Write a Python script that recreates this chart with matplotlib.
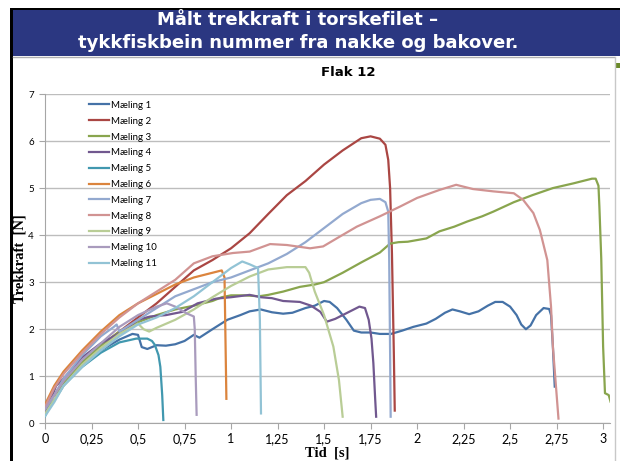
import matplotlib
matplotlib.use("Agg")
import matplotlib.pyplot as plt
from matplotlib.patches import Rectangle, Arc
from matplotlib.lines import Line2D

# måledata, flak 12 (tid i s, kraft i N)
t1 = [0, 0.02, 0.05, 0.1, 0.15, 0.2, 0.3, 0.4, 0.47, 0.5, 0.52, 0.55, 0.6, 0.65, 0.7, 0.75, 0.8, 0.83,
      0.9, 0.98, 1.05, 1.1, 1.16, 1.22, 1.28, 1.33, 1.4, 1.45, 1.5, 1.53, 1.57, 1.62, 1.66, 1.7, 1.75,
      1.8, 1.86, 1.92, 1.98, 2.05, 2.1, 2.15, 2.19, 2.23, 2.28, 2.33, 2.38, 2.42, 2.46, 2.5, 2.535,
      2.56, 2.585, 2.61, 2.64, 2.68, 2.71, 2.72, 2.73, 2.74]
f1 = [0.2, 0.45, 0.6, 0.85, 1.05, 1.25, 1.55, 1.78, 1.9, 1.88, 1.62, 1.58, 1.66, 1.65, 1.68, 1.75, 1.88,
      1.82, 2.0, 2.2, 2.3, 2.38, 2.42, 2.36, 2.33, 2.35, 2.45, 2.5, 2.6, 2.58, 2.45, 2.2, 1.97, 1.93,
      1.93, 1.9, 1.9, 1.97, 2.05, 2.12, 2.22, 2.35, 2.42, 2.38, 2.32, 2.38, 2.5, 2.58, 2.58, 2.48, 2.3,
      2.1, 2.0, 2.08, 2.3, 2.45, 2.43, 2.3, 1.63, 0.78]

t2 = [0, 0.02, 0.05, 0.1, 0.2, 0.3, 0.4, 0.5, 0.6, 0.7, 0.8, 0.9, 1.0, 1.1, 1.2, 1.3, 1.4, 1.5, 1.6,
      1.7, 1.75, 1.8, 1.83, 1.845, 1.855, 1.865, 1.875, 1.88]
f2 = [0.35, 0.5, 0.6, 0.9, 1.3, 1.65, 1.95, 2.25, 2.55, 2.9, 3.25, 3.47, 3.72, 4.04, 4.45, 4.85, 5.15,
      5.5, 5.8, 6.06, 6.1, 6.05, 5.92, 5.6, 5.0, 3.6, 1.5, 0.27]

t3 = [0, 0.05, 0.1, 0.2, 0.3, 0.4, 0.5, 0.6, 0.7, 0.8, 0.85, 0.9, 0.95, 1.0, 1.07, 1.15, 1.2, 1.28,
      1.37, 1.45, 1.5, 1.6, 1.7, 1.8, 1.855, 1.9, 1.95, 2.05, 2.12, 2.2, 2.27, 2.35, 2.41, 2.52, 2.62,
      2.73, 2.84, 2.94, 2.96, 2.975, 2.98, 2.99, 3.0, 3.01, 3.03, 3.04]
f3 = [0.3, 0.6, 0.85, 1.3, 1.65, 1.95, 2.15, 2.3, 2.42, 2.5, 2.55, 2.6, 2.68, 2.72, 2.72, 2.7, 2.73,
      2.8, 2.9, 2.95, 3.0, 3.2, 3.42, 3.63, 3.82, 3.85, 3.86, 3.93, 4.08, 4.18, 4.29, 4.4, 4.5, 4.7,
      4.85, 5.0, 5.1, 5.2, 5.2, 5.05, 4.6, 3.5, 1.63, 0.64, 0.6, 0.46]

t4 = [0, 0.03, 0.06, 0.1, 0.2, 0.3, 0.385, 0.45, 0.5, 0.565, 0.65, 0.74, 0.82, 0.92, 1.0, 1.1, 1.16,
      1.22, 1.28, 1.37, 1.43, 1.48, 1.515, 1.56, 1.6, 1.65, 1.69, 1.72, 1.74, 1.755, 1.765, 1.775, 1.78]
f4 = [0.25, 0.5, 0.8, 0.95, 1.4, 1.7, 1.88, 2.05, 2.2, 2.27, 2.3, 2.37, 2.55, 2.65, 2.68, 2.73, 2.68,
      2.66, 2.6, 2.58, 2.5, 2.37, 2.16, 2.22, 2.3, 2.4, 2.48, 2.45, 2.2, 1.8, 1.28, 0.5, 0.14]

t5 = [0, 0.03, 0.06, 0.1, 0.2, 0.3, 0.4, 0.49, 0.55, 0.575, 0.59, 0.61, 0.62, 0.63, 0.636]
f5 = [0.15, 0.4, 0.55, 0.8, 1.2, 1.5, 1.72, 1.8, 1.8, 1.75, 1.67, 1.45, 1.2, 0.6, 0.07]

t6 = [0, 0.05, 0.1, 0.2, 0.3, 0.4, 0.5, 0.6, 0.7, 0.8, 0.9, 0.95, 0.965, 0.975]
f6 = [0.4, 0.8, 1.1, 1.55, 1.95, 2.3, 2.55, 2.75, 2.95, 3.1, 3.2, 3.25, 3.1, 0.52]

t7 = [0, 0.05, 0.1, 0.2, 0.3, 0.37, 0.385, 0.4, 0.5, 0.6, 0.7, 0.8, 0.9, 1.0, 1.1, 1.2, 1.3, 1.4,
      1.5, 1.6, 1.7, 1.75, 1.8, 1.83, 1.845, 1.85, 1.855, 1.858]
f7 = [0.3, 0.6, 0.95, 1.45, 1.85, 2.05, 2.1, 1.95, 2.2, 2.45, 2.7, 2.85, 3.0, 3.1, 3.25, 3.4, 3.6,
      3.85, 4.15, 4.45, 4.68, 4.75, 4.77, 4.7, 4.5, 3.5, 1.5, 0.14]

t8 = [0, 0.05, 0.1, 0.2, 0.3, 0.4, 0.5, 0.6, 0.7, 0.8, 0.9, 1.01, 1.1, 1.21, 1.3, 1.425, 1.495, 1.585,
      1.676, 1.8, 1.91, 2.0, 2.12, 2.21, 2.3, 2.41, 2.52, 2.57, 2.625, 2.66, 2.7, 2.72, 2.73, 2.76]
f8 = [0.35, 0.75, 1.05, 1.5, 1.9, 2.25, 2.55, 2.8, 3.05, 3.4, 3.55, 3.62, 3.65, 3.81, 3.79, 3.72, 3.76,
      3.97, 4.18, 4.4, 4.61, 4.79, 4.96, 5.07, 4.98, 4.93, 4.89, 4.75, 4.47, 4.11, 3.47, 2.48, 1.63, 0.1]

t9 = [0, 0.05, 0.1, 0.2, 0.3, 0.4, 0.5, 0.53, 0.56, 0.6, 0.7, 0.8, 0.9, 1.0, 1.1, 1.2, 1.3, 1.4,
      1.42, 1.45, 1.5, 1.55, 1.58, 1.6]
f9 = [0.2, 0.5, 0.8, 1.25, 1.6, 1.9, 2.12, 2.0, 1.95, 2.03, 2.2, 2.42, 2.68, 2.92, 3.12, 3.27, 3.32,
      3.32, 3.2, 2.8, 2.3, 1.63, 0.92, 0.14]

t10 = [0, 0.05, 0.1, 0.2, 0.3, 0.4, 0.5, 0.6, 0.655, 0.7, 0.76, 0.8, 0.805, 0.81, 0.815]
f10 = [0.3, 0.6, 0.9, 1.35, 1.7, 2.05, 2.3, 2.48, 2.55, 2.48, 2.34, 2.27, 2.0, 1.0, 0.18]

t11 = [0, 0.05, 0.1, 0.2, 0.3, 0.4, 0.5, 0.6, 0.7, 0.8, 0.9, 1.0, 1.06, 1.1, 1.145, 1.155, 1.161]
f11 = [0.15, 0.45, 0.8, 1.2, 1.55, 1.85, 2.1, 2.25, 2.45, 2.7, 3.0, 3.3, 3.44, 3.38, 3.3, 2.2, 0.21]

navn = ["Mæling %d" % i for i in range(1, 12)]
farger = ["#4572A7", "#AA4643", "#89A54E", "#71588F", "#4198AF", "#DB843D",
          "#93A9CF", "#D19392", "#B9CD96", "#A99BBD", "#92C3D5"]
xticks = [0, 0.25, 0.5, 0.75, 1, 1.25, 1.5, 1.75, 2, 2.25, 2.5, 2.75, 3]
xticklabels = ["0", "0,25", "0,5", "0,75", "1", "1,25", "1,5", "1,75", "2", "2,25", "2,5", "2,75", "3"]

W, H = 620, 461


def px(x, y):
    # pikselposisjon -> figurkoordinater
    return x / W, 1 - y / H


fig = plt.figure(figsize=(6.2, 4.61), dpi=100)
fig.patch.set_facecolor("white")

# ramme og topptekst
fig.add_artist(Rectangle(px(13, 56), 607 / W, 46 / H, transform=fig.transFigure,
                         facecolor="#2b3781", edgecolor="none"))
fig.add_artist(Rectangle(px(10, 10.5), 610 / W, 2.5 / H, transform=fig.transFigure,
                         facecolor="black", edgecolor="none"))
fig.add_artist(Rectangle(px(10, 461), 3 / W, 450.5 / H, transform=fig.transFigure,
                         facecolor="black", edgecolor="none"))
fig.add_artist(Line2D([13 / W, 614 / W], [1 - 57 / H, 1 - 57 / H], transform=fig.transFigure,
                      color="#b0b0b0", lw=1))
fig.add_artist(Line2D([614.5 / W, 614.5 / W], [0, 1 - 57 / H], transform=fig.transFigure,
                      color="#c8c8c8", lw=1))
fig.add_artist(Rectangle(px(616, 68), 4 / W, 5 / H, transform=fig.transFigure,
                         facecolor="#6b8a2a", edgecolor="none"))

fig.text(*px(298, 20), "Målt trekkraft i torskefilet –", color="white", fontsize=13,
         fontweight="bold", ha="center", va="center", family="DejaVu Sans")
fig.text(*px(298, 43), "tykkfiskbein nummer fra nakke og bakover.", color="white", fontsize=13,
         fontweight="bold", ha="center", va="center", family="DejaVu Sans")

# logo
lax = fig.add_axes([561 / W, 1 - 48 / H, 36 / W, 36 / H])
lax.set_xlim(-1, 1)
lax.set_ylim(-1, 1)
lax.set_aspect("equal")
lax.axis("off")
for mid in [90, 30, -30, 270, 210, 150]:
    lax.add_patch(Arc((0, 0), 1.8, 1.8, theta1=mid - 20, theta2=mid + 20, color="white", lw=1.8))
lax.text(0, 0, "matis", color="white", fontsize=5.5, fontweight="bold", ha="center", va="center")

fig.text(*px(348, 73), "Flak 12", fontsize=9.5, fontweight="bold", ha="center", va="center",
         family="DejaVu Sans")

# diagram
ax = fig.add_axes([45 / W, 1 - 423.3 / H, 565 / W, 329.3 / H])
serier = [(t1, f1), (t2, f2), (t3, f3), (t4, f4), (t5, f5), (t6, f6),
          (t7, f7), (t8, f8), (t9, f9), (t10, f10), (t11, f11)]
for i, (t, f) in enumerate(serier):
    ax.plot(t, f, color=farger[i], lw=1.6, label=navn[i], zorder=3 + i)

ax.set_xlim(0, 3.037)
ax.set_ylim(0, 7)
ax.set_yticks(range(8))
ax.set_xticks(xticks)
ax.set_xticklabels(xticklabels)
ax.grid(axis="y", color="#bdbdbd", lw=1)
ax.set_axisbelow(True)
for s in ["top", "right"]:
    ax.spines[s].set_visible(False)
for s in ["left", "bottom"]:
    ax.spines[s].set_color("#a6a6a6")
ax.tick_params(axis="y", labelsize=7, length=4, color="#a6a6a6", pad=4)
ax.tick_params(axis="x", labelsize=9, length=4, color="#a6a6a6", pad=3)
for lab in ax.get_xticklabels() + ax.get_yticklabels():
    lab.set_family("Lato")

ax.set_xlabel("Tid  [s]", fontsize=10.5, fontweight="bold", family="Liberation Serif", labelpad=1)
ax.set_ylabel("Trekkraft  [N]", fontsize=10.5, fontweight="bold", family="Liberation Serif")
ax.yaxis.set_label_coords(-18 / 565, 0.5)

leg = ax.legend(loc="upper left", bbox_to_anchor=(40 / 565, 1 - 3 / 329.3), frameon=False,
                handlelength=2.1, handletextpad=0.2, labelspacing=0.7,
                borderaxespad=0, prop={"family": "Lato", "size": 7})

fig.savefig("out.png", dpi=100)
